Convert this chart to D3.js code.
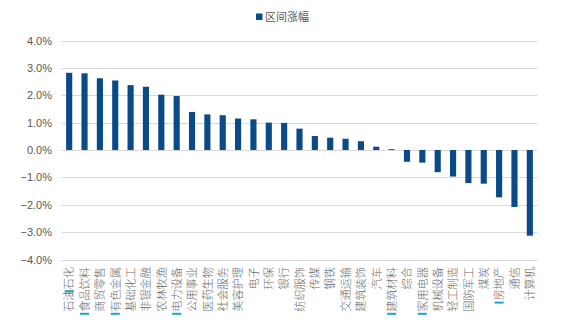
<!DOCTYPE html>
<html><head><meta charset="utf-8">
<script src="https://cdn.jsdelivr.net/npm/d3@7"></script>
<style>body{margin:0;background:#fff}</style>
</head><body><svg id="c" width="566" height="326"></svg>
<script>
const categories = ["石油石化","食品饮料","商贸零售","有色金属","基础化工","非银金融","农林牧渔","电力设备","公用事业","医药生物","社会服务","美容护理","电子","环保","银行","纺织服饰","传媒","钢铁","交通运输","建筑装饰","汽车","建筑材料","综合","家用电器","机械设备","轻工制造","国防军工","煤炭","房地产","通信","计算机"];
const values = [2.82,2.80,2.62,2.54,2.37,2.31,2.02,1.97,1.39,1.30,1.27,1.15,1.12,1.00,0.99,0.78,0.51,0.45,0.41,0.32,0.12,0.03,-0.43,-0.46,-0.81,-0.97,-1.21,-1.23,-1.73,-2.08,-3.13];
const yTicks = [4,3,2,1,0,-1,-2,-3,-4];
const seriesName = "区间涨幅";
// underline markers: category -> number of characters from the label's top
const markCats = ["石油石化","食品饮料","有色金属","电力设备","建筑材料","家用电器","房地产"];
const markChars = [2,4,4,4,4,4,3];

const svg = d3.select("#c");
const x = d3.scaleBand().domain(categories).range([61.5, 537.5]).paddingInner(0.6).paddingOuter(0.3);
const y = d3.scaleLinear().domain([-4, 4]).range([259.5, 40.5]);
const grey = "#595959", blue = "#0A4A87";

// gridlines
svg.append("g").selectAll("line").data(yTicks).join("line")
  .attr("x1", 61.5).attr("x2", 537.5)
  .attr("y1", d => Math.round(y(d)) + 0.5).attr("y2", d => Math.round(y(d)) + 0.5)
  .attr("stroke", "#d9d9d9").attr("stroke-width", 1);

// y axis labels
const yAxis = d3.axisLeft(y).tickValues(yTicks).tickSize(0).tickPadding(0)
  .tickFormat(d => d3.format(".1f")(d) + "%");
const ga = svg.append("g").attr("transform", "translate(52,0)").call(yAxis);
ga.select(".domain").remove();
ga.selectAll("text").attr("fill", grey).style("font-family", "Liberation Sans, Arial, sans-serif").style("font-size", "11px");

// bars
svg.append("g").selectAll("rect").data(values).join("rect")
  .attr("x", (d, i) => x(categories[i]))
  .attr("width", x.bandwidth())
  .attr("y", d => y(Math.max(0, d)))
  .attr("height", d => Math.abs(y(d) - y(0)))
  .attr("fill", blue);

// category labels
const labelTop = 267;
const fs = 11.2;
svg.append("g").selectAll("text").data(categories).join("text")
  .attr("transform", d => `translate(${x(d) + x.bandwidth() / 2},${labelTop}) rotate(-90)`)
  .attr("text-anchor", "end").attr("dy", "0.38em")
  .attr("fill", "#6a6a6a")
  .style("font-family", "Noto Sans CJK SC, sans-serif").style("font-size", fs + "px")
  .style("font-weight", 300)
  .text(d => d);

// cyan markers
svg.append("g").selectAll("rect").data(markCats).join("rect")
  .attr("x", d => x(d) + x.bandwidth() / 2 - 4.5)
  .attr("y", (d, i) => labelTop + markChars[i] * fs + 1)
  .attr("width", 9).attr("height", 2)
  .attr("fill", "#17A9C6");

// legend
const lg = svg.append("g");
lg.append("rect").attr("x", 256).attr("y", 13.5).attr("width", 6.5).attr("height", 6.5).attr("fill", blue);
lg.append("text").attr("x", 265).attr("y", 17).attr("dy", "0.36em").attr("fill", grey)
  .style("font-family", "Noto Sans CJK SC, sans-serif").style("font-size", "11px").text(seriesName);
</script></body></html>
